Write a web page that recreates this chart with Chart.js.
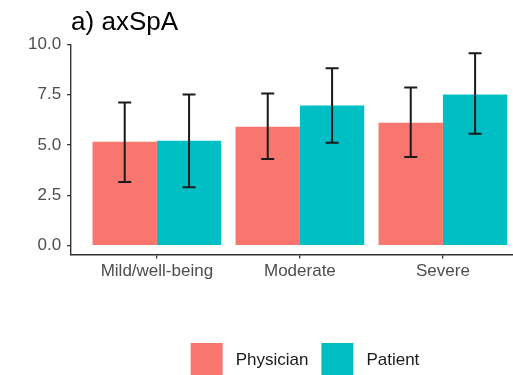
<!DOCTYPE html>
<html>
<head>
<meta charset="utf-8">
<script src="https://cdn.jsdelivr.net/npm/chart.js@4.4.0/dist/chart.umd.min.js"></script>
<style>
  html, body { margin: 0; padding: 0; background: #fff; }
  #wrap { width: 513px; height: 375px; overflow: hidden; }
</style>
</head>
<body>
<div id="wrap"><canvas id="chart" width="513" height="375"></canvas></div>
<script>
/* ============================================================
   a) axSpA — grouped bars with error bars
   ============================================================ */

// --- values ---
const categories = ['Mild/well-being', 'Moderate', 'Severe'];
const categoryPos = [1, 2, 3];

const physicianMean = [5.15, 5.9, 6.1];
const physicianLow = [3.15, 4.3, 4.4];
const physicianHigh = [7.1, 7.55, 7.85];

const patientMean = [5.2, 6.95, 7.5];
const patientLow = [2.9, 5.1, 5.55];
const patientHigh = [7.5, 8.8, 9.55];

const yTicks = [0, 2.5, 5, 7.5, 10];

// --- styling ---
const RED = '#F8766D';
const TEAL = '#00BFC4';
const AXIS = '#333333';
const TICK_TEXT = '#4D4D4D';
const FONT = "'Liberation Sans', Arial, sans-serif";

const toPoints = vals => vals.map((v, i) => ({ x: categoryPos[i], y: v }));

// =========================================================
// Error bars: vertical line + caps, through the y scale
// =========================================================
const errorBars = {
  id: 'errorBars',
  afterDatasetsDraw(chart) {
    const ctx = chart.ctx;
    const yScale = chart.scales.y;
    ctx.save();
    ctx.strokeStyle = '#1a1a1a';
    ctx.lineWidth = 2;
    chart.data.datasets.forEach((ds, di) => {
      const meta = chart.getDatasetMeta(di);
      meta.data.forEach((bar, j) => {
        const x = bar.x;
        const yLo = yScale.getPixelForValue(ds.errLow[j]);
        const yHi = yScale.getPixelForValue(ds.errHigh[j]);
        const cap = 6.5;
        ctx.beginPath();
        ctx.moveTo(x, yLo); ctx.lineTo(x, yHi);
        ctx.moveTo(x - cap, yLo); ctx.lineTo(x + cap, yLo);
        ctx.moveTo(x - cap, yHi); ctx.lineTo(x + cap, yHi);
        ctx.stroke();
      });
    });
    ctx.restore();
  },
};

// =========================================================
// Legend at the bottom, ggplot style
// =========================================================
const bottomLegend = {
  id: 'bottomLegend',
  afterDraw(chart) {
    const ctx = chart.ctx;
    const box = 32, gapText = 13, gapItem = 13;
    ctx.save();
    ctx.font = `17px ${FONT}`;
    ctx.textBaseline = 'middle';
    const items = chart.data.datasets.map(ds => ({
      label: ds.label, color: ds.backgroundColor, w: ctx.measureText(ds.label).width,
    }));
    const total = items.reduce((s, it) => s + box + gapText + it.w, 0) + gapItem * (items.length - 1);
    const centerX = 305;
    let x = centerX - total / 2;
    const top = chart.height - box;
    items.forEach(it => {
      ctx.fillStyle = it.color;
      ctx.fillRect(x, top, box, box);
      ctx.fillStyle = '#1a1a1a';
      ctx.fillText(it.label, x + box + gapText, top + box / 2 + 1);
      x += box + gapText + it.w + gapItem;
    });
    ctx.restore();
  },
};

new Chart(document.getElementById('chart'), {
  type: 'bar',
  data: {
    datasets: [
      {
        label: 'Physician',
        data: toPoints(physicianMean),
        errLow: physicianLow,
        errHigh: physicianHigh,
        backgroundColor: RED,
      },
      {
        label: 'Patient',
        data: toPoints(patientMean),
        errLow: patientLow,
        errHigh: patientHigh,
        backgroundColor: TEAL,
      },
    ],
  },
  options: {
    responsive: false,
    animation: false,
    devicePixelRatio: 1,
    layout: { padding: { left: 22, right: 0, top: 0, bottom: 90 } },
    datasets: { bar: { categoryPercentage: 0.9, barPercentage: 1.0, borderWidth: 0 } },
    plugins: {
      legend: { display: false },
      tooltip: { enabled: false },
      title: {
        display: true,
        text: 'a) axSpA',
        align: 'start',
        fullSize: false,
        color: '#000',
        font: { family: FONT, size: 26, weight: 'normal' },
        padding: { top: 7, bottom: 6 },
      },
    },
    scales: {
      x: {
        type: 'linear',
        min: 0.4,
        max: 3.49,
        offset: false,
        afterBuildTicks: s => { s.ticks = categoryPos.map(v => ({ value: v })); },
        ticks: {
          callback: v => categories[categoryPos.indexOf(v)],
          color: TICK_TEXT,
          font: { family: FONT, size: 17 },
          padding: 3,
          maxRotation: 0,
          autoSkip: false,
        },
        grid: { offset: false, drawOnChartArea: false, tickLength: 4, color: AXIS, lineWidth: 1.3 },
        border: { display: true, color: AXIS, width: 1.4 },
      },
      y: {
        min: -0.45,
        max: 10,
        afterBuildTicks: s => { s.ticks = yTicks.map(v => ({ value: v })); },
        ticks: {
          callback: v => v.toFixed(1),
          color: TICK_TEXT,
          font: { family: FONT, size: 17 },
          padding: 6,
        },
        grid: { drawOnChartArea: false, tickLength: 4, color: AXIS, lineWidth: 1.3 },
        border: { display: true, color: AXIS, width: 1.4 },
      },
    },
  },
  plugins: [errorBars, bottomLegend],
});
</script>
</body>
</html>
